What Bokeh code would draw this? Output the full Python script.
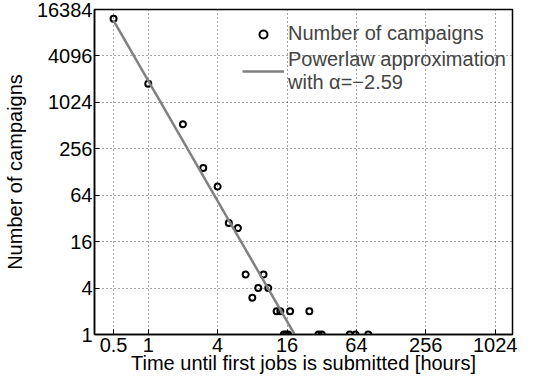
from bokeh.plotting import figure
from bokeh.models import Range1d, FixedTicker, CustomJSTickFormatter, Legend, LegendItem
from bokeh.embed import file_html
from bokeh.resources import INLINE

# Data
hours = [0.5, 1, 2, 3, 4, 5, 6, 7, 8, 9, 10, 11, 13, 14, 15, 15.7, 16.4, 17, 25, 30, 32, 56, 63, 81]
campaigns = [12400, 1780, 533, 144, 83, 28, 24, 6, 3, 4, 6, 4, 2, 2, 1, 1, 1, 2, 2, 1, 1, 1, 1, 1]

# Power-law approximation
alpha = -2.59
fit_scale = 1950
fit_x = [0.5, 18.6]
fit_y = [fit_scale * x ** alpha for x in fit_x]

x_ticks = [0.5, 1, 4, 16, 64, 256, 1024]
y_ticks = [1, 4, 16, 64, 256, 1024, 4096, 16384]

FONT = "Liberation Sans"
FS = "20px"

p = figure(width=518, height=376, x_axis_type="log", y_axis_type="log",
           x_range=Range1d(2 ** -1.55, 2 ** 10.5), y_range=Range1d(1, 16384),
           output_backend="svg", toolbar_location=None,
           min_border_left=89, min_border_right=6, min_border_top=9, min_border_bottom=40)

p.background_fill_color = "white"
p.border_fill_color = "white"
p.outline_line_color = "black"
p.outline_line_width = 1.5

sc = p.scatter(hours, campaigns, marker="circle", size=6, fill_color=None,
               line_color="black", line_width=2)
ln = p.line(fit_x, fit_y, line_color="#808080", line_width=2.5)

p.xaxis.ticker = FixedTicker(ticks=x_ticks)
p.yaxis.ticker = FixedTicker(ticks=y_ticks)
p.xaxis.formatter = CustomJSTickFormatter(code="return tick.toString();")
p.yaxis.formatter = CustomJSTickFormatter(code="return tick.toString();")

for ax in (p.xaxis[0], p.yaxis[0]):
    ax.axis_line_width = 1.5
    ax.major_tick_in = 5
    ax.major_tick_out = 0
    ax.minor_tick_line_color = None
    ax.major_label_text_font = FONT
    ax.major_label_text_font_size = FS
    ax.major_label_text_color = "black"
    ax.axis_label_text_font = FONT
    ax.axis_label_text_font_size = FS
    ax.axis_label_text_font_style = "normal"
    ax.axis_label_text_color = "black"

p.xaxis.axis_label = "Time until first jobs is submitted [hours]"
p.yaxis.axis_label = "Number of campaigns"
p.xaxis.major_label_standoff = 3
p.xaxis.axis_label_standoff = -3
p.yaxis.major_label_standoff = 2
p.yaxis.axis_label_standoff = 8

p.grid.grid_line_color = "black"
p.grid.grid_line_dash = "1 3"
p.grid.grid_line_alpha = 0.7
p.grid.grid_line_width = 1

legend = Legend(items=[LegendItem(label="Number of campaigns", renderers=[sc]),
                       LegendItem(label="Powerlaw approximation\nwith α=−2.59", renderers=[ln])],
                location=(142, 234), margin=0, padding=6, spacing=3,
                glyph_width=42, label_standoff=4,
                background_fill_alpha=0, border_line_alpha=0,
                label_text_font=FONT, label_text_font_size=FS)
p.add_layout(legend)

open("out.html", "w").write(file_html(p, INLINE))
